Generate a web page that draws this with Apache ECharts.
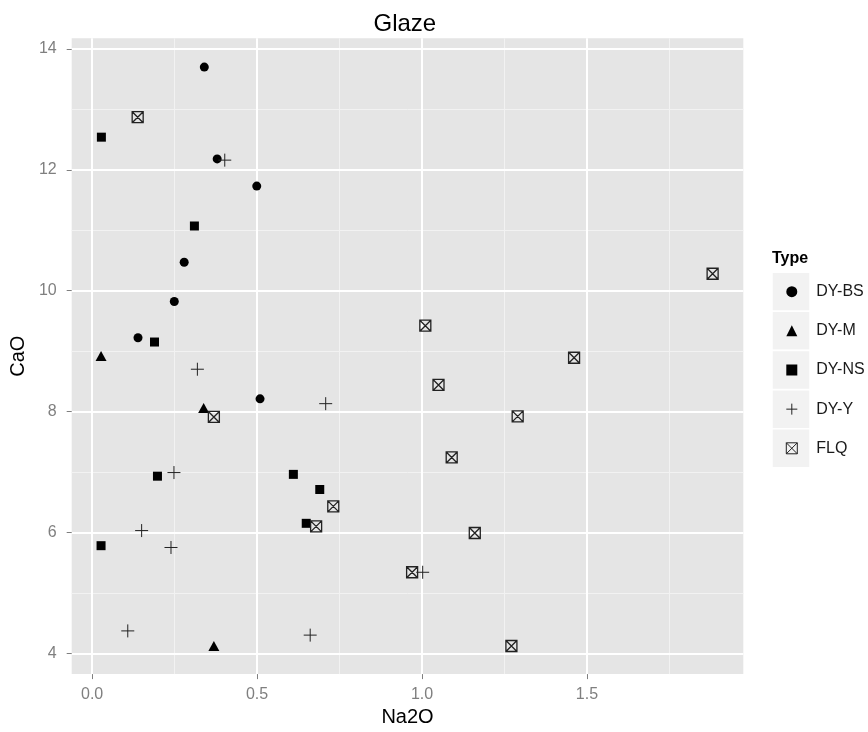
<!DOCTYPE html>
<html>
<head>
<meta charset="utf-8">
<script src="https://cdn.jsdelivr.net/npm/echarts@6/dist/echarts.min.js"></script>
<style>
html,body{margin:0;padding:0;background:#fff;}
#chart{width:868px;height:732px;}
</style>
</head>
<body>
<div id="chart"></div>
<script>
// ---- data (Na2O, CaO) per glaze type ----
const types = ['DY-BS', 'DY-M', 'DY-NS', 'DY-Y', 'FLQ'];

const bsNa2O = [0.340, 0.379, 0.499, 0.279, 0.249, 0.139, 0.509];
const bsCaO  = [13.70, 12.18, 11.73, 10.47, 9.82, 9.22, 8.21];

const mNa2O = [0.027, 0.338, 0.369];
const mCaO  = [8.92, 8.06, 4.12];

const nsNa2O = [0.028, 0.310, 0.189, 0.198, 0.610, 0.690, 0.649, 0.027];
const nsCaO  = [12.54, 11.07, 9.15, 6.93, 6.96, 6.71, 6.15, 5.78];

const yNa2O = [0.402, 0.319, 0.708, 0.248, 0.150, 0.239, 1.002, 0.108, 0.661];
const yCaO  = [12.16, 8.70, 8.13, 6.99, 6.03, 5.75, 5.34, 4.37, 4.30];

const flqNa2O = [0.138, 1.010, 1.881, 1.461, 1.050, 1.290, 1.090, 0.369, 0.731, 0.679, 1.160, 0.970, 1.271];
const flqCaO  = [12.87, 9.42, 10.28, 8.89, 8.44, 7.92, 7.24, 7.91, 6.43, 6.10, 5.99, 5.34, 4.12];

const xMajor = [0, 0.5, 1.0, 1.5];
const xMinor = [0.25, 0.75, 1.25, 1.75];
const yMajor = [4, 6, 8, 10, 12, 14];
const yMinor = [5, 7, 9, 11, 13];

function pairs(xs, ys) { return xs.map((x, i) => [x, ys[i]]); }

const FONT = '"Liberation Sans", Arial, Helvetica, sans-serif';
const CROSS = 'path://M0,5L10,5M5,0L5,10';
const BOXX = 'path://M0,0L10,0L10,10L0,10ZM0,0L10,10M10,0L0,10';

const chart = echarts.init(document.getElementById('chart'));

const legendTop = 283.7;
const legendStep = 39.15;
const keyRects = types.map((t, i) => ({
  type: 'rect',
  shape: { x: 772, y: legendTop + 8 + i * legendStep - 19.5, width: 38, height: 39 },
  style: { fill: '#F2F2F2', stroke: '#FFFFFF', lineWidth: 1.5 },
  z: 0
}));

const option = {
  animation: false,
  backgroundColor: '#FFFFFF',
  title: [
    { text: 'Glaze', left: 373.5, top: 12, padding: 0,
      textStyle: { fontFamily: FONT, fontSize: 24, fontWeight: 'normal', color: '#000' } },
    { text: 'Type', left: 772, top: 251, padding: 0,
      textStyle: { fontFamily: FONT, fontSize: 16, fontWeight: 'bold', color: '#000' } }
  ],
  graphic: keyRects,
  legend: {
    orient: 'vertical',
    left: 785.8,
    top: legendTop,
    padding: 0,
    itemWidth: 11,
    itemHeight: 11,
    itemGap: legendStep - 16,
    data: types,
    textStyle: { fontFamily: FONT, fontSize: 16, lineHeight: 16, color: '#1a1a1a', padding: [0, 0, 0, 14] },
    itemStyle: { borderWidth: 1 }
  },
  grid: {
    left: 68, top: 38.3, width: 675.3, height: 640,
    show: true, backgroundColor: '#E5E5E5', borderWidth: 0,
    containLabel: false, z: 0
  },
  xAxis: [
    {
      type: 'value', min: -0.062, max: 1.974, position: 'bottom',
      name: 'Na2O', nameLocation: 'middle', nameGap: 31,
      nameTextStyle: { fontFamily: FONT, fontSize: 20, color: '#000' },
      axisLine: { show: false, onZero: false },
      axisTick: { show: true, length: 5, customValues: xMajor, lineStyle: { color: '#7F7F7F', width: 1 } },
      axisLabel: { customValues: xMajor, margin: 12, fontFamily: FONT, fontSize: 16, color: '#7F7F7F',
        formatter: v => v.toFixed(1) },
      splitLine: { show: true, lineStyle: { color: '#FFFFFF', width: 2 } },
      z: 1
    },
    {
      type: 'value', min: -0.062, max: 1.974, position: 'top',
      axisLine: { show: false, onZero: false },
      axisTick: { show: false, customValues: xMinor },
      axisLabel: { show: false, customValues: xMinor },
      splitLine: { show: true, lineStyle: { color: '#F2F2F2', width: 1 } },
      z: 0.5
    }
  ],
  yAxis: [
    {
      type: 'value', min: 3.655, max: 14.176, position: 'left',
      name: 'CaO', nameLocation: 'middle', nameGap: 34,
      nameTextStyle: { fontFamily: FONT, fontSize: 20, color: '#000' },
      axisLine: { show: false, onZero: false },
      axisTick: { show: true, length: 5, customValues: yMajor, lineStyle: { color: '#7F7F7F', width: 1 } },
      axisLabel: { customValues: yMajor, margin: 15, fontFamily: FONT, fontSize: 16, color: '#7F7F7F' },
      splitLine: { show: true, lineStyle: { color: '#FFFFFF', width: 2 } },
      z: 1
    },
    {
      type: 'value', min: 3.655, max: 14.176, position: 'right',
      axisLine: { show: false, onZero: false },
      axisTick: { show: false, customValues: yMinor },
      axisLabel: { show: false, customValues: yMinor },
      splitLine: { show: true, lineStyle: { color: '#F2F2F2', width: 1 } },
      z: 0.5
    }
  ],
  series: [
    { name: 'DY-BS', type: 'scatter', symbol: 'circle', symbolSize: 9, z: 3,
      data: pairs(bsNa2O, bsCaO), itemStyle: { color: '#000', opacity: 1 } },
    { name: 'DY-M', type: 'scatter', symbol: 'triangle', symbolSize: [11, 10], z: 3,
      data: pairs(mNa2O, mCaO), itemStyle: { color: '#000', opacity: 1 } },
    { name: 'DY-NS', type: 'scatter', symbol: 'rect', symbolSize: 9, z: 3,
      data: pairs(nsNa2O, nsCaO), itemStyle: { color: '#000', opacity: 1 } },
    { name: 'DY-Y', type: 'scatter', symbol: CROSS, symbolSize: 13, z: 3,
      data: pairs(yNa2O, yCaO),
      itemStyle: { color: 'rgba(0,0,0,0)', borderColor: '#222', borderWidth: 1, opacity: 1 } },
    { name: 'FLQ', type: 'scatter', symbol: BOXX, symbolSize: 11, z: 3,
      data: pairs(flqNa2O, flqCaO),
      itemStyle: { color: 'rgba(0,0,0,0)', borderColor: '#222', borderWidth: 1.3, opacity: 1 } }
  ]
};

chart.setOption(option);
</script>
</body>
</html>
